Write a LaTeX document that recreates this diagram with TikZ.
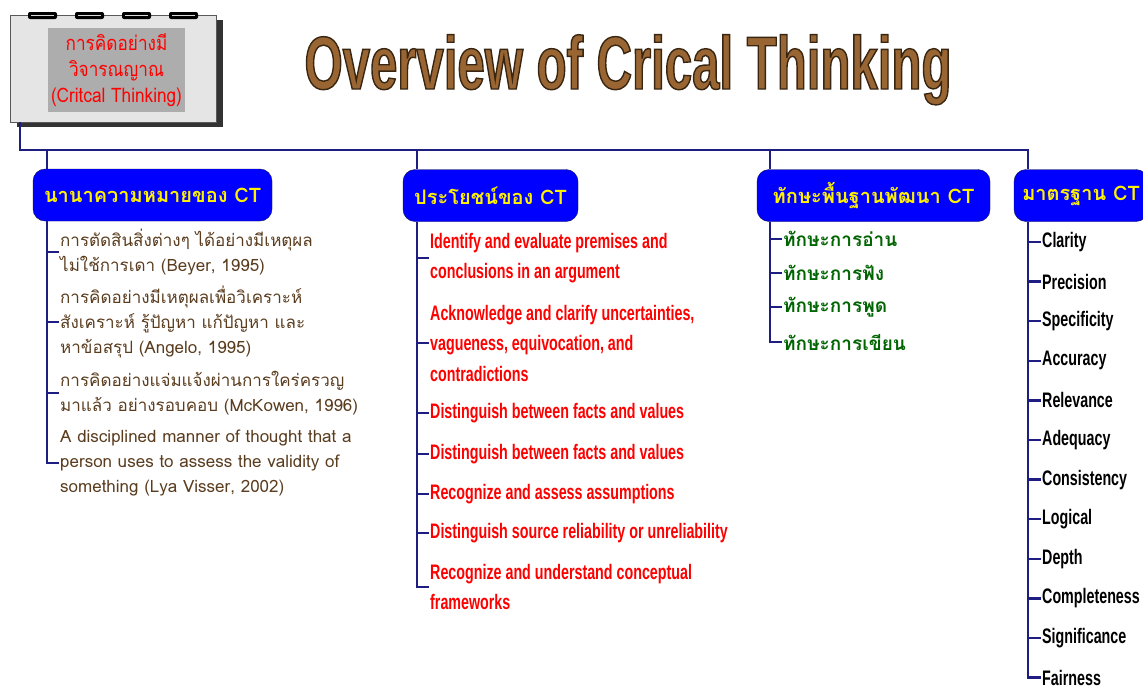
\documentclass[tikz,border=0pt]{standalone}
\usepackage{fontspec}
\usetikzlibrary{shadows}
\newfontfamily\thaifont[Script=Thai]{Loma}
\newfontfamily\boxfont[Script=Thai,FakeStretch=0.86]{Loma}
\newfontfamily\narrowfont[FakeStretch=0.68]{Liberation Sans}
\newfontfamily\titlefont[FakeStretch=0.655]{Liberation Sans}
\definecolor{navy}{RGB}{30,30,130}
\definecolor{titlebrown}{RGB}{153,102,51}
\definecolor{itembrown}{RGB}{90,60,30}
\definecolor{skillgreen}{RGB}{0,100,0}
\newcommand\outlined[1]{\special{pdf:literal direct 0.22 0.15 0.07 RG 1.4 w 2 Tr}#1\special{pdf:literal direct 0 Tr}}
\begin{document}
\begin{tikzpicture}[x=1pt,y=-1pt,
  every node/.style={inner sep=1pt},
  conn/.style={draw=navy,line width=2.5pt}
]

\tikzstyle{frame}=[draw=black!65,fill=black!10,minimum width=206pt,minimum height=107pt,
  drop shadow={shadow xshift=7pt,shadow yshift=-5pt,opacity=1,fill=black!80}]
\tikzstyle{titletext}=[anchor=base,text=titlebrown,font=\titlefont\bfseries\fontsize{75}{76}\selectfont]
\tikzstyle{head}=[draw=navy!60!black,fill=blue,rounded corners=12pt,minimum height=52pt,
  text=yellow,font=\thaifont\bfseries\fontsize{20}{22}\selectfont]
\tikzstyle{mean}=[anchor=west,align=left,text=itembrown,font=\thaifont\fontsize{17}{25}\selectfont]
\tikzstyle{use}=[anchor=west,align=left,text=red,font=\narrowfont\bfseries\fontsize{21}{30.5}\selectfont]
\tikzstyle{skill}=[anchor=west,text=skillgreen,font=\thaifont\bfseries\fontsize{19}{22}\selectfont]
\tikzstyle{std}=[anchor=west,text=black,font=\narrowfont\bfseries\fontsize{21}{24}\selectfont]

\useasboundingbox (0,0) rectangle (1143,689);

\coordinate (bus) at (20,150);
\coordinate (t1) at (47,150);
\coordinate (t2) at (417,150);
\coordinate (t3) at (770,150);
\coordinate (t4) at (1028,150);

\node[frame] (frame) at (113,68.5) {};
\foreach \x in {28,75,122,169}{
  \fill[black,rounded corners=2pt] (\x,12) rectangle ++(29,7);
  \draw[white!85!black,line width=0.8pt] (\x+3,15.5) -- ++(23,0);
}
\node[fill=black!32,minimum width=137pt,minimum height=84pt,align=center,text=red,
  font=\boxfont\fontsize{20}{26}\selectfont] (topic) at (116.5,70)
  {การคิดอย่างมี\\วิจารณญาณ\\(Critcal Thinking)};

\node[titletext] (title) at (628,89) {\outlined{Overview of Crical Thinking}};

\node[head,minimum width=239pt] (h1) at (152.5,195) {นานาความหมายของ CT};
\node[head,minimum width=175pt] (h2) at (490.5,195.5) {ประโยชน์ของ CT};
\node[head,minimum width=233pt] (h3) at (873.5,195.5) {ทักษะพื้นฐานพัฒนา CT};
\node[head,minimum width=134pt] (h4) at (1081,195.5) {มาตรฐาน CT};

\node[mean] (m1) at (59,252) {การตัดสินสิ่งต่างๆ ได้อย่างมีเหตุผล\\ไม่ใช้การเดา (Beyer, 1995)};
\node[mean] (m2) at (59,322) {การคิดอย่างมีเหตุผลเพื่อวิเคราะห์\\สังเคราะห์ รู้ปัญหา แก้ปัญหา และ\\หาข้อสรุป (Angelo, 1995)};
\node[mean] (m3) at (59,393) {การคิดอย่างแจ่มแจ้งผ่านการใคร่ครวญ\\มาแล้ว อย่างรอบคอบ (McKowen, 1996)};
\node[mean] (m4) at (59,463) {A disciplined manner of thought that a\\person uses to assess the validity of\\something (Lya Visser, 2002)};

\node[use] (u1) at (429,258) {Identify and evaluate premises and\\conclusions in an argument};
\node[use] (u2) at (429,343) {Acknowledge and clarify uncertainties,\\vagueness, equivocation, and\\contradictions};
\node[use] (u3) at (429,413) {Distinguish between facts and values};
\node[use] (u4) at (429,454) {Distinguish between facts and values};
\node[use] (u5) at (429,494) {Recognize and assess assumptions};
\node[use] (u6) at (429,533) {Distinguish source reliability or unreliability};
\node[use] (u7) at (429,587) {Recognize and understand conceptual\\frameworks};

\node[skill] (s1) at (782,239) {ทักษะการอ่าน};
\node[skill] (s2) at (782,273) {ทักษะการฟัง};
\node[skill] (s3) at (782,307) {ทักษะการพูด};
\node[skill] (s4) at (782,342) {ทักษะการเขียน};

\foreach \name [count=\i] in {Clarity,Precision,Specificity,Accuracy,Relevance,Adequacy,
  Consistency,Logical,Depth,Completeness,Significance,Fairness}
  \node[std] (c\i) at (1041,{242+(\i-1)*39.6}) {\name};

\draw[conn] (bus |- frame.south) -- (bus) -- (t4) -- (t4 |- h4.north);
\foreach \t/\h in {t1/h1,t2/h2,t3/h3}
  \draw[conn] (\t) -- (\t |- \h.north);

\draw[conn] (t1 |- h1.south) |- (m4.west);
\foreach \n in {m1,m2,m3}
  \draw[conn] (t1 |- \n.west) -- (\n.west);
\draw[conn] (t2 |- h2.south) |- (u7.west);
\foreach \n in {u1,u2,u3,u4,u5,u6}
  \draw[conn] (t2 |- \n.west) -- (\n.west);
\draw[conn] (t3 |- h3.south) |- (s4.west);
\foreach \n in {s1,s2,s3}
  \draw[conn] (t3 |- \n.west) -- (\n.west);
\draw[conn] (t4 |- h4.south) |- (c12.west);
\foreach \i in {1,...,11}
  \draw[conn] (t4 |- c\i.west) -- (c\i.west);
\end{tikzpicture}
\end{document}
